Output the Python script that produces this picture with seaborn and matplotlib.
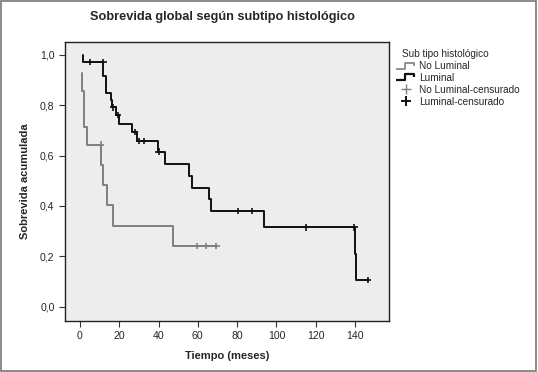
import numpy as np
import pandas as pd
import matplotlib
matplotlib.use("Agg")
import matplotlib.pyplot as plt
from matplotlib.path import Path
from matplotlib.lines import Line2D
from matplotlib.patches import Rectangle
import seaborn as sns

# Kaplan-Meier steps (time in months, cumulative survival)
groups = ["No Luminal", "Luminal"]

nl_t = [1.2, 1.2, 2.2, 3.4, 10.7, 11.6, 13.9, 16.9, 47.5, 69.4]
nl_s = [0.929, 0.857, 0.714, 0.643, 0.5625, 0.482, 0.402, 0.321, 0.241, 0.241]

lum_t = [1.4, 1.4, 12.0, 13.4, 15.8, 16.5, 18.6, 20.0, 26.3, 29.2, 39.5, 43.3,
         55.6, 56.8, 65.8, 66.8, 93.6, 140.0, 140.5, 146.4]
lum_s = [1.0, 0.972, 0.915, 0.849, 0.82, 0.791, 0.761, 0.725, 0.694, 0.657, 0.615,
         0.568, 0.52, 0.473, 0.426, 0.379, 0.315, 0.21, 0.105, 0.105]

# censored observations
nl_cens_t = [10.7, 59.5, 64.1, 69.4]
nl_cens_s = [0.643, 0.241, 0.241, 0.241]
lum_cens_t = [5.1, 12.0, 17.0, 19.3, 28.0, 30.0, 32.4, 40.0, 80.6, 87.4, 115.0, 139.7, 146.4]
lum_cens_s = [0.972, 0.972, 0.791, 0.761, 0.694, 0.657, 0.657, 0.615, 0.379, 0.379,
              0.315, 0.315, 0.105]

x_ticks = [0, 20, 40, 60, 80, 100, 120, 140]
y_ticks = [0.0, 0.2, 0.4, 0.6, 0.8, 1.0]

curves = pd.concat([
    pd.DataFrame({"tiempo": nl_t, "surv": nl_s, "grupo": groups[0]}),
    pd.DataFrame({"tiempo": lum_t, "surv": lum_s, "grupo": groups[1]}),
], ignore_index=True)
cens = pd.concat([
    pd.DataFrame({"tiempo": nl_cens_t, "surv": nl_cens_s, "grupo": groups[0]}),
    pd.DataFrame({"tiempo": lum_cens_t, "surv": lum_cens_s, "grupo": groups[1]}),
], ignore_index=True)

colors = {"No Luminal": "#7f7f7f", "Luminal": "#111111"}

sns.set_style("ticks")
plt.rcParams["font.family"] = ["Liberation Sans", "DejaVu Sans"]

fig = plt.figure(figsize=(5.38, 3.72), dpi=100)
ax = fig.add_axes([0.1208, 0.137, 0.6022, 0.751])
ax.set_facecolor("#ECEDEC")

sns.lineplot(data=curves, x="tiempo", y="surv", hue="grupo", palette=colors,
             estimator=None, sort=False, drawstyle="steps-post", linewidth=1.4,
             legend=False, ax=ax)
sns.scatterplot(data=cens, x="tiempo", y="surv", hue="grupo", palette=colors,
                marker="+", s=22, linewidth=1.2, legend=False, ax=ax, zorder=3)

ax.set_xlim(-7.6, 157.3)
ax.set_ylim(-0.057, 1.052)
ax.set_xticks(x_ticks)
ax.set_yticks(y_ticks)
ax.set_yticklabels([f"{v:.1f}".replace(".", ",") for v in y_ticks])
ax.tick_params(labelsize=7.6, length=4.5, width=0.8, color="#333333", pad=3)
for sp in ax.spines.values():
    sp.set_color("#222222")
    sp.set_linewidth(1.0)

ax.set_xlabel("Tiempo (meses)", fontsize=8, fontweight="bold", labelpad=7)
ax.set_ylabel("Sobrevida acumulada", fontsize=8, fontweight="bold", labelpad=7)
fig.text(0.413, 0.953, "Sobrevida global según subtipo histológico",
         fontsize=9.2, fontweight="bold", ha="center", va="center")

# legend with step-shaped line icons
step = Path([(-1.0, -0.3), (-0.1, -0.3), (-0.1, 0.3), (0.8, 0.3), (0.8, 0.0)])
handles = [
    Line2D([], [], linestyle="none", marker=step, markersize=15, markeredgewidth=1.2,
           markerfacecolor="none", markeredgecolor=colors["No Luminal"]),
    Line2D([], [], linestyle="none", marker=step, markersize=15, markeredgewidth=1.6,
           markerfacecolor="none", markeredgecolor=colors["Luminal"]),
    Line2D([], [], linestyle="none", marker="+", markersize=7, markeredgewidth=1.0,
           color=colors["No Luminal"]),
    Line2D([], [], linestyle="none", marker="+", markersize=7, markeredgewidth=1.4,
           color=colors["Luminal"]),
]
labels = ["No Luminal", "Luminal", "No Luminal-censurado", "Luminal-censurado"]
leg = fig.legend(handles, labels, title="Sub tipo histológico", loc="upper left",
                 bbox_to_anchor=(0.733, 0.878), frameon=False, fontsize=7.2,
                 title_fontsize=7.2, handlelength=1.6, handletextpad=0.5,
                 labelspacing=0.18, borderaxespad=0, alignment="left")
leg.get_title().set_position((4, 0))

fig.patches.append(Rectangle((0.001, 0.003), 0.996, 0.993, transform=fig.transFigure,
                             fill=False, edgecolor="#777777", linewidth=1.2))

fig.savefig("out.png", dpi=100)
